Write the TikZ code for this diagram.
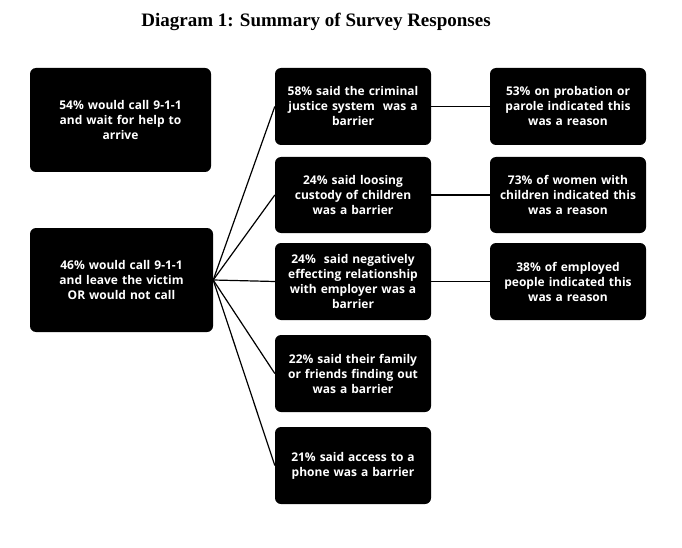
\documentclass[tikz,border=0pt]{standalone}
\usepackage{fontspec}
\setmainfont{Open Sans}
\newfontfamily\titlefont{Liberation Serif}
\begin{document}
\begin{tikzpicture}[x=1pt,y=-1pt,
  bx/.style={fill=black,rounded corners=6pt,text=white,font=\bfseries\fontsize{12}{15}\selectfont,align=center,inner sep=0pt},
  ln/.style={black,line width=1.2pt}]
\useasboundingbox (0,0) rectangle (682,548);
\node[font=\titlefont\bfseries\fontsize{19}{22}\selectfont] (t) at (316,22) {Diagram 1: Summary of Survey Responses};
\newcommand{\bx}[6]{\node[bx,minimum width=#4-#2,minimum height=#5-#3,text width=#4-#2-10] (#1) at ({(#2+#4)/2},{(#3+#5)/2}) {#6};}
\bx{a}{30}{68}{211}{172}{54\% would call 9-1-1\\and wait for help to\\arrive}
\bx{b}{30}{228}{213}{332}{46\% would call 9-1-1\\and leave the victim\\OR would not call}
\bx{m1}{275}{68}{431}{145}{58\% said the criminal\\justice system\ \ was a\\barrier}
\bx{m2}{275}{157}{431}{233}{24\% said loosing\\custody of children\\was a barrier}
\bx{m3}{275}{243}{431}{320}{24\%\ \ said negatively\\effecting relationship\\with employer was a\\barrier}
\bx{m4}{275}{335}{431}{412}{22\% said their family\\or friends finding out\\was a barrier}
\bx{m5}{275}{427}{431}{504}{21\% said access to a\\phone was a barrier}
\bx{r1}{490}{68}{646}{145}{53\% on probation or\\parole indicated this\\was a reason}
\bx{r2}{490}{157}{646}{233}{73\% of women with\\children indicated this\\was a reason}
\bx{r3}{490}{243}{646}{320}{38\% of employed\\people indicated this\\was a reason}
\foreach \m in {m1,m2,m3,m4,m5} \draw[ln] (b.east) -- (\m.west);
\draw[ln] (m1) -- (r1); \draw[ln] (m2) -- (r2); \draw[ln] (m3) -- (r3);
\end{tikzpicture}
\end{document}
